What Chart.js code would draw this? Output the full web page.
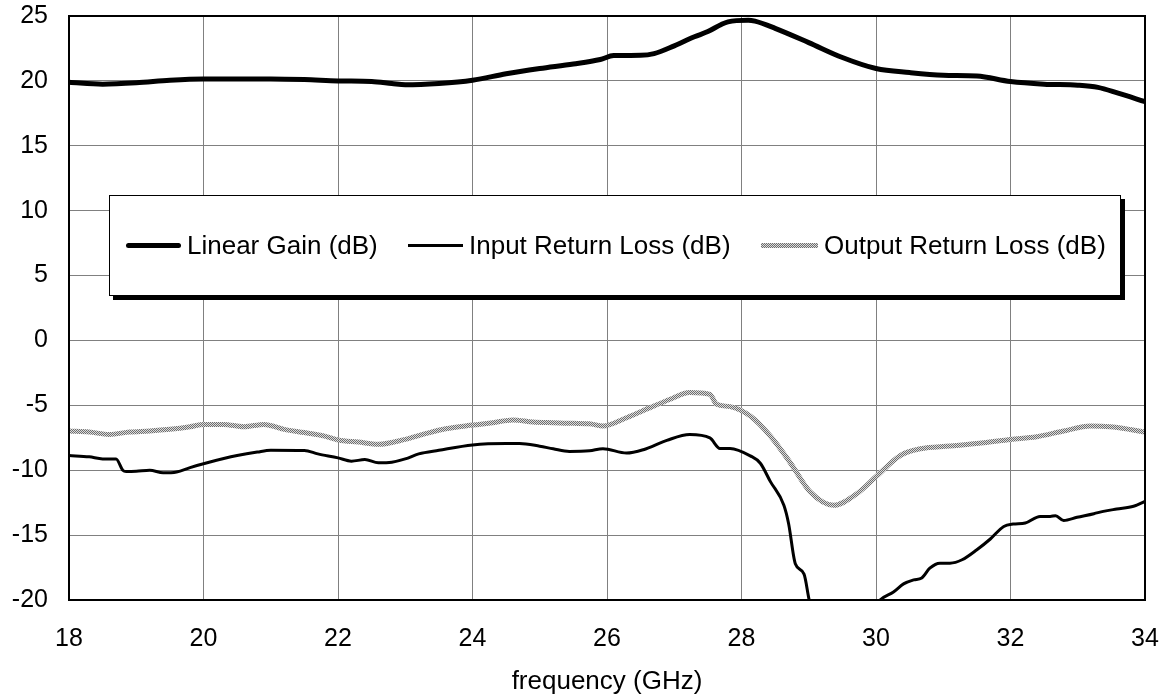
<!DOCTYPE html>
<html>
<head>
<meta charset="utf-8">
<script src="https://cdn.jsdelivr.net/npm/chart.js@4.4.1/dist/chart.umd.min.js"></script>
<style>
  html, body { margin: 0; padding: 0; background: #fff; }
  #wrap { position: relative; width: 1169px; height: 696px; }
  #c { position: absolute; left: 0; top: 0; }
  #legend {
    position: absolute; left: 109px; top: 195px; width: 1010px; height: 99px;
    background: #fff; border: 1.5px solid #000; box-shadow: 4px 4px 0 #000;
    font-family: "Liberation Sans", Arial, sans-serif; font-size: 26px; color: #000;
  }
  .item { position: absolute; top: 0; height: 99px; display: flex; align-items: center; white-space: nowrap; }
  .sw { display: inline-block; margin-right: 6px; }
  .sw.gain { width: 55px; height: 5px; background: #000; border-radius: 2.5px; }
  .sw.inp { width: 55px; height: 3px; background: #000; }
  .sw.out { width: 57px; height: 5px; background: repeating-conic-gradient(#6e6e6e 0 25%, #dcdcdc 0 50%) 0 0 / 2px 2px; }
</style>
</head>
<body>
<div id="wrap">
  <canvas id="c" width="1169" height="696"></canvas>
  <div id="legend"></div>
</div>
<script>
// ---- data ----
const seriesNames = ["Linear Gain (dB)", "Input Return Loss (dB)", "Output Return Loss (dB)"];
const xTitle = "frequency (GHz)";

const gainFreq = [18, 18.5, 19, 19.5, 20, 20.5, 21, 21.5, 22, 22.5, 22.8, 23, 23.5, 24, 24.5, 25, 25.5, 25.9, 26.1, 26.5, 26.7, 27, 27.3, 27.5, 27.7, 27.8, 28.1, 28.2, 28.5, 29, 29.5, 30, 30.5, 31, 31.5, 32, 32.5, 33, 33.3, 33.6, 34];
const gainVal  = [19.9, 19.75, 19.85, 20.05, 20.15, 20.15, 20.15, 20.1, 20.0, 19.95, 19.8, 19.7, 19.8, 20.05, 20.55, 20.95, 21.3, 21.65, 21.95, 21.97, 22.1, 22.7, 23.4, 23.8, 24.35, 24.55, 24.67, 24.6, 24.05, 22.95, 21.8, 20.95, 20.64, 20.44, 20.38, 19.95, 19.75, 19.67, 19.5, 19.05, 18.4];

const inFreq = [18, 18.3, 18.5, 18.7, 18.8, 18.85, 19, 19.2, 19.4, 19.6, 19.8, 20, 20.3, 20.5, 20.8, 21, 21.5, 21.7, 22, 22.2, 22.4, 22.6, 22.8, 23, 23.2, 23.5, 24, 24.5, 24.7, 25, 25.2, 25.44, 25.74, 25.94, 26.29, 26.54, 26.89, 27.23, 27.53, 27.68, 27.83, 28.13, 28.28, 28.43, 28.63, 28.7, 28.8, 28.93, 29.01, 29.1, 29.5, 29.9, 30.06, 30.26, 30.41, 30.56, 30.68, 30.8, 30.95, 31.1, 31.28, 31.5, 31.7, 31.9, 32.04, 32.22, 32.44, 32.59, 32.67, 32.79, 32.99, 33.24, 33.38, 33.58, 33.83, 34];
const inVal  = [-8.87, -8.97, -9.13, -9.13, -10.0, -10.1, -10.08, -10.0, -10.2, -10.13, -9.8, -9.5, -9.1, -8.87, -8.6, -8.46, -8.48, -8.74, -9.05, -9.3, -9.18, -9.43, -9.38, -9.13, -8.74, -8.46, -8.05, -7.94, -7.94, -8.15, -8.35, -8.55, -8.5, -8.34, -8.68, -8.42, -7.7, -7.25, -7.51, -8.32, -8.32, -8.89, -9.46, -10.88, -12.7, -14.1, -17.2, -18.0, -20.08, -21.5, -24, -21.2, -20.0, -19.38, -18.76, -18.45, -18.3, -17.55, -17.16, -17.16, -16.9, -16.13, -15.3, -14.33, -14.15, -14.07, -13.56, -13.56, -13.5, -13.87, -13.63, -13.35, -13.17, -12.99, -12.78, -12.4];

const outFreq = [18, 18.3, 18.6, 18.9, 19.2, 19.5, 19.8, 20, 20.3, 20.6, 20.9, 21.2, 21.5, 21.8, 22, 22.3, 22.6, 23, 23.3, 23.6, 24, 24.3, 24.6, 24.9, 25.2, 25.5, 25.74, 25.94, 26.29, 26.64, 26.94, 27.23, 27.53, 27.63, 27.83, 28.13, 28.43, 28.73, 29.02, 29.37, 29.72, 30, 30.36, 30.66, 31.1, 31.6, 32, 32.39, 32.79, 33.19, 33.48, 33.78, 34];
const outVal  = [-6.98, -7.06, -7.24, -7.06, -6.98, -6.85, -6.65, -6.47, -6.47, -6.65, -6.47, -6.85, -7.1, -7.37, -7.67, -7.83, -8.0, -7.62, -7.18, -6.8, -6.52, -6.34, -6.13, -6.29, -6.34, -6.39, -6.42, -6.6, -5.96, -5.18, -4.53, -4.02, -4.15, -4.92, -5.1, -5.83, -7.38, -9.46, -11.66, -12.7, -11.79, -10.5, -8.87, -8.35, -8.14, -7.89, -7.63, -7.42, -6.98, -6.6, -6.65, -6.86, -7.06];

const xTicks = [18, 20, 22, 24, 26, 28, 30, 32, 34];
const yTicks = [-20, -15, -10, -5, 0, 5, 10, 15, 20, 25];

// ---- helpers ----
function pts(xs, ys) { return xs.map((x, i) => ({ x: x, y: ys[i] })); }

function checker() {
  const p = document.createElement('canvas');
  p.width = 2; p.height = 2;
  const g = p.getContext('2d');
  g.fillStyle = '#dcdcdc'; g.fillRect(0, 0, 2, 2);
  g.fillStyle = '#6e6e6e'; g.fillRect(0, 0, 1, 1); g.fillRect(1, 1, 1, 1);
  return document.getElementById('c').getContext('2d').createPattern(p, 'repeat');
}

function noPad(s) { s.paddingTop = 0; s.paddingBottom = 0; s.paddingLeft = 0; s.paddingRight = 0; }

// ---- legend (HTML) ----
const legendDefs = [
  { cls: 'gain', left: 16 },
  { cls: 'inp', left: 298 },
  { cls: 'out', left: 651 }
];
const lg = document.getElementById('legend');
legendDefs.forEach((d, i) => {
  const it = document.createElement('div');
  it.className = 'item';
  it.style.left = d.left + 'px';
  const sw = document.createElement('span');
  sw.className = 'sw ' + d.cls;
  const tx = document.createElement('span');
  tx.textContent = seriesNames[i];
  it.appendChild(sw); it.appendChild(tx);
  lg.appendChild(it);
});

// ---- frame plugin ----
const framePlugin = {
  id: 'frame',
  afterDraw(chart) {
    const a = chart.chartArea, ctx = chart.ctx;
    ctx.save();
    ctx.strokeStyle = '#000';
    ctx.lineWidth = 2;
    ctx.strokeRect(a.left, a.top, a.right - a.left, a.bottom - a.top);
    ctx.restore();
  }
};

const font = { family: '"Liberation Sans", Arial, sans-serif', size: 25 };

new Chart(document.getElementById('c'), {
  type: 'line',
  data: {
    datasets: [
      { label: seriesNames[0], data: pts(gainFreq, gainVal), borderColor: '#000', borderWidth: 5, pointRadius: 0, cubicInterpolationMode: 'monotone', order: 1 },
      { label: seriesNames[1], data: pts(inFreq, inVal), borderColor: '#000', borderWidth: 3, pointRadius: 0, cubicInterpolationMode: 'monotone', order: 2 },
      { label: seriesNames[2], data: pts(outFreq, outVal), borderColor: checker(), borderWidth: 5, pointRadius: 0, cubicInterpolationMode: 'monotone', order: 3 }
    ]
  },
  options: {
    responsive: false,
    animation: false,
    events: [],
    layout: { padding: { top: 16, right: 24, left: 0, bottom: 0 } },
    plugins: { legend: { display: false }, tooltip: { enabled: false } },
    scales: {
      x: {
        type: 'linear', min: 18, max: 34,
        afterBuildTicks: s => { s.ticks = xTicks.map(v => ({ value: v })); },
        afterFit: s => { s.height = 96; noPad(s); },
        grid: { color: '#808080', lineWidth: 1, drawTicks: false },
        border: { display: false },
        ticks: { color: '#000', font: font, padding: 24, maxRotation: 0 },
        title: { display: true, text: xTitle, color: '#000', font: { family: font.family, size: 26, lineHeight: 1.0 }, padding: { top: 0, bottom: 1 } }
      },
      y: {
        type: 'linear', min: -20, max: 25,
        afterBuildTicks: s => { s.ticks = yTicks.map(v => ({ value: v })); },
        afterFit: s => { s.width = 69; noPad(s); },
        grid: { color: '#808080', lineWidth: 1, drawTicks: false },
        border: { display: false },
        ticks: { color: '#000', font: font, padding: 21 }
      }
    }
  },
  plugins: [framePlugin]
});
</script>
</body>
</html>
